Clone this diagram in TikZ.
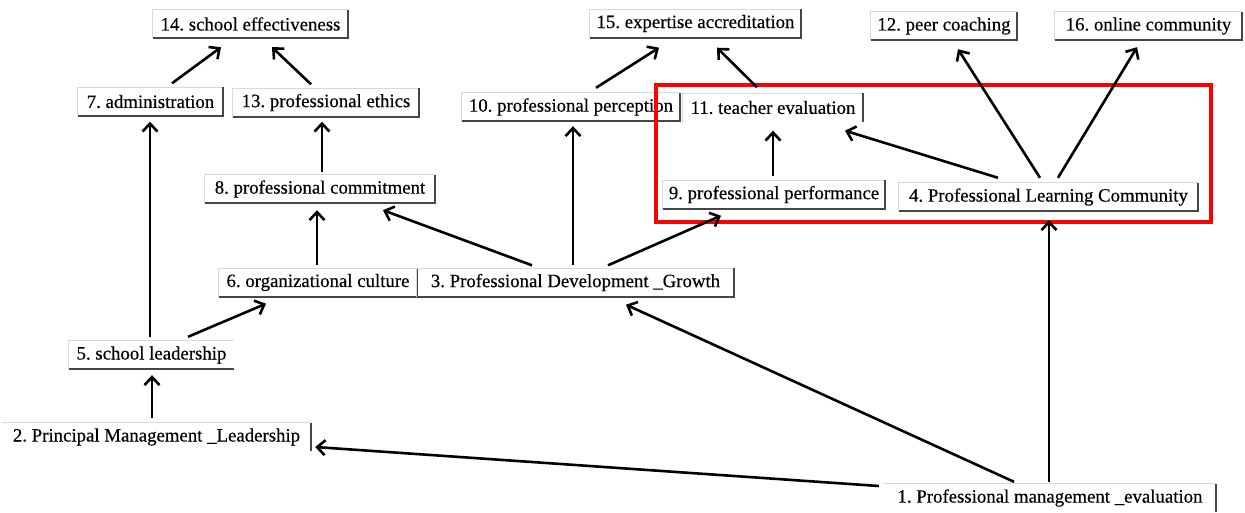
\documentclass[tikz,border=0pt]{standalone}
\usepackage{fontspec}
\setmainfont{Liberation Serif}
\newfontfamily\lblfont{Liberation Serif}[FakeBold=0.4]
\usetikzlibrary{arrows.meta,calc}
\frenchspacing
\begin{document}
\begin{tikzpicture}[x=1pt,y=-1pt,
  lbl/.style={inner sep=0pt, minimum height=28pt, font=\lblfont\fontsize{18.8}{21}\selectfont\frenchspacing, text=black},
  arr/.style={line width=2.6pt, -{Straight Barb[length=8pt,width=15pt]}},
  bdark/.style={draw=gray!55!black, line width=1.6pt},
  blight/.style={draw=gray!30, line width=0.8pt},
  hilite/.style={draw=red, line width=4pt}]
\useasboundingbox (0,0) rectangle (1245,512);

% nodes
\node[lbl, minimum width=195pt] (n14) at (250.5,24) {14. school effectiveness};
\node[lbl, minimum width=211pt] (n15) at (695.5,23.5) {15. expertise accreditation};
\node[lbl, minimum width=146pt] (n12) at (944,26) {12. peer coaching};
\node[lbl, minimum width=187pt] (n16) at (1148.5,26) {16. online community};
\node[lbl, minimum width=145pt] (n7) at (150.5,101.5) {7. administration};
\node[lbl, minimum width=186pt] (n13) at (326,102.5) {13. professional ethics};
\node[lbl, minimum width=218pt] (n10) at (571,107) {10. professional perception};
\node[lbl, minimum width=180pt] (n11) at (773,107.5) {11. teacher evaluation};
\node[lbl, minimum width=230pt] (n8) at (320,189) {8. professional commitment};
\node[lbl, minimum width=222pt] (n9) at (774,194.5) {9. professional performance};
\node[lbl, minimum width=299pt] (n4) at (1048.5,197) {4. Professional Learning Community};
\node[lbl, minimum width=198pt] (n6) at (318,282.5) {6. organizational culture};
\node[lbl, minimum width=317pt] (n3) at (575.5,282.5) {3. Professional Development \_Growth};
\node[lbl, minimum width=165pt] (n5) at (151.5,355) {5. school leadership};
\node[lbl, minimum width=309pt] (n2) at (156.5,437) {2. Principal Management \_Leadership};
\node[lbl, minimum width=332pt] (n1) at (1050,498) {1. Professional management \_evaluation};

% node borders
\foreach \n in {14,15,12,16,7,13,10,8,9,4,6,3}{
  \draw[blight] (n\n.south west) |- (n\n.north east);
  \draw[bdark] (n\n.south west) -- (n\n.south east) -- (n\n.north east);
}
\draw[blight] (n11.south west) |- (n11.north east);
\draw[bdark] (n11.south east) -- (n11.north east);
\draw[blight] (n5.south west) |- (n5.north east);
\draw[bdark] (n5.south west) -- (n5.south east);
\foreach \n in {1,2}{
  \draw[blight] (n\n.north west) -- (n\n.north east);
  \draw[bdark] (n\n.south east) -- (n\n.north east);
}

% highlight
\draw[hilite] (656,85) rectangle (1211,222);

% connectors
\draw[arr] ($(n7.north)+(21.5,-4)$) -- ($(n14.south)+(-29.5,9)$);
\draw[arr] ($(n13.north)+(-15,-4)$) -- ($(n14.south)+(21.5,9)$);
\draw[arr] ($(n8.north)+(2,-3)$) -- ($(n13.south)+(-4,5)$);
\draw[arr] ($(n5.north)+(-1.5,-4)$) -- ($(n7.south)+(-0.5,6)$);
\draw[arr] ($(n5.north)+(36.5,-4)$) -- ($(n6.south)+(-52,7)$);
\draw[arr] ($(n2.north)+(-4.5,-5)$) -- ($(n5.south)+(0.5,6)$);
\draw[arr] ($(n6.north)+(-1,-3)$) -- ($(n8.south)+(-3,7)$);
\draw[arr] ($(n3.north)+(-43.5,-3)$) -- ($(n8.south)+(63,7)$);
\draw[arr] ($(n3.north)+(-2.5,-3)$) -- ($(n10.south)+(2,5)$);
\draw[arr] ($(n3.north)+(32.5,-3)$) -- ($(n9.south)+(-53,7)$);
\draw[arr] ($(n10.north)+(25,-5)$) -- ($(n15.south)+(-36.5,10)$);
\draw[arr] ($(n11.north)+(-16,-6)$) -- ($(n15.south)+(21.5,10)$);
\draw[arr] ($(n9.north)+(-1,-4)$) -- ($(n11.south)+(0,9)$);
\draw[arr] ($(n4.north)+(-50.5,-5)$) -- ($(n11.south)+(72,9)$);
\draw[arr] ($(n4.north)+(-8.5,-5)$) -- ($(n12.south)+(14,9)$);
\draw[arr] ($(n4.north)+(9.5,-5)$) -- ($(n16.south)+(-11.5,7)$);
\draw[arr] ($(n1.north)+(-1,-2)$) -- ($(n4.south)+(0.5,9)$);
\draw[arr] ($(n1.north)+(-36,-2)$) -- ($(n3.south)+(50.5,8)$);
\draw[arr] ($(n1.west)+(-5,-12)$) -- ($(n2.east)+(4,10)$);
\end{tikzpicture}
\end{document}
